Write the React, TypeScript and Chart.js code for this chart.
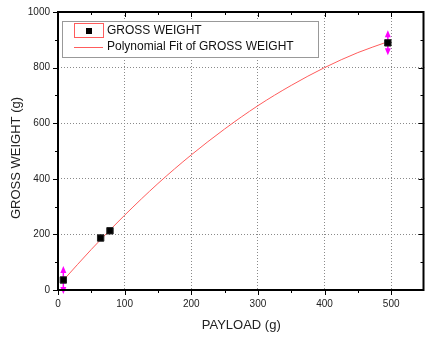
import React, { useEffect, useRef } from "react";
import { Chart, registerables } from "chart.js";

Chart.register(...registerables);

const payload = [8, 64, 78, 495];
const grossWeight = [36, 187, 213, 889];
const errors = [50, 0, 0, 45];
const fitX = [8, 50, 100, 150, 200, 250, 300, 350, 400, 450, 495];
const fitY = [35, 146, 269, 383, 486, 579, 663, 736, 800, 854, 893];
const legendLabels = ["GROSS WEIGHT", "Polynomial Fit of GROSS WEIGHT"];
const xTitle = "PAYLOAD (g)";
const yTitle = "GROSS WEIGHT (g)";

const FONT = '"Liberation Sans", Arial, sans-serif';
const FIT_COLOR = "#ff5c5c";

const errorBarPlugin = {
  id: "errorBars",
  beforeDatasetsDraw(chart: any) {
    const { ctx, scales } = chart;
    const xs = scales.x, ys = scales.y;
    ctx.save();
    ctx.strokeStyle = "#ff00ff";
    ctx.fillStyle = "#ff00ff";
    ctx.lineWidth = 1.5;
    payload.forEach((px, i) => {
      const e = errors[i];
      if (!e) return;
      const x = xs.getPixelForValue(px);
      const yTop = ys.getPixelForValue(grossWeight[i] + e);
      const yBot = ys.getPixelForValue(grossWeight[i] - e);
      ctx.beginPath();
      ctx.moveTo(x, yTop + 3);
      ctx.lineTo(x, yBot - 3);
      ctx.stroke();
      ctx.beginPath();
      ctx.moveTo(x, yTop);
      ctx.lineTo(x - 3, yTop + 7);
      ctx.lineTo(x + 3, yTop + 7);
      ctx.closePath();
      ctx.fill();
      ctx.beginPath();
      ctx.moveTo(x, yBot);
      ctx.lineTo(x - 3, yBot - 7);
      ctx.lineTo(x + 3, yBot - 7);
      ctx.closePath();
      ctx.fill();
    });
    ctx.restore();
  },
};

const framePlugin = {
  id: "frame",
  afterDraw(chart: any) {
    const { ctx, chartArea, scales } = chart;
    const { left, right, top, bottom } = chartArea;
    const xs = scales.x, ys = scales.y;
    ctx.save();
    ctx.strokeStyle = "#000";
    ctx.lineWidth = 1;
    for (let v = 50; v < 550; v += 50) {
      const x = Math.round(xs.getPixelForValue(v)) + 0.5;
      const len = v % 100 === 0 ? 5 : 3;
      ctx.beginPath();
      ctx.moveTo(x, bottom);
      ctx.lineTo(x, bottom + len);
      ctx.moveTo(x, top);
      ctx.lineTo(x, top + len);
      ctx.stroke();
    }
    for (let v = 100; v < 1000; v += 100) {
      const y = Math.round(ys.getPixelForValue(v)) + 0.5;
      const len = v % 200 === 0 ? 5 : 3;
      ctx.beginPath();
      ctx.moveTo(left, y);
      ctx.lineTo(left - len, y);
      ctx.moveTo(right - 1, y);
      ctx.lineTo(right - 1 - len, y);
      ctx.stroke();
    }
    ctx.beginPath();
    ctx.moveTo(left, top + 0.5);
    ctx.lineTo(left - 5, top + 0.5);
    ctx.moveTo(left, bottom + 0.5);
    ctx.lineTo(left - 5, bottom + 0.5);
    ctx.moveTo(left + 0.5, bottom);
    ctx.lineTo(left + 0.5, bottom + 5);
    ctx.stroke();
    ctx.lineWidth = 2;
    ctx.strokeRect(left, top, right - left - 1, bottom - top);

    ctx.fillStyle = "#222";
    ctx.font = `13px ${FONT}`;
    ctx.textAlign = "center";
    ctx.textBaseline = "middle";
    ctx.fillText(xTitle, (left + right) / 2, 325);
    ctx.save();
    ctx.translate(16, 158);
    ctx.rotate(-Math.PI / 2);
    ctx.fillText(yTitle, 0, 0);
    ctx.restore();

    const lx = 62, ly = 21, lw = 256, lh = 36;
    ctx.fillStyle = "#fff";
    ctx.fillRect(lx, ly, lw, lh);
    ctx.lineWidth = 1;
    ctx.strokeStyle = "#999";
    ctx.strokeRect(lx + 0.5, ly + 0.5, lw, lh);
    ctx.strokeStyle = FIT_COLOR;
    ctx.strokeRect(74.5, 23.5, 29, 14);
    ctx.fillStyle = "#000";
    ctx.fillRect(86, 28, 6, 6);
    ctx.beginPath();
    ctx.moveTo(74, 47.5);
    ctx.lineTo(103, 47.5);
    ctx.stroke();
    ctx.fillStyle = "#111";
    ctx.font = `12px ${FONT}`;
    ctx.textAlign = "left";
    ctx.textBaseline = "middle";
    ctx.fillText(legendLabels[0], 107, 31);
    ctx.fillText(legendLabels[1], 107, 47);
    ctx.restore();
  },
};

export default function App() {
  const ref = useRef<HTMLCanvasElement>(null);
  useEffect(() => {
    if (!ref.current) return;
    const chart = new Chart(ref.current, {
      type: "scatter",
      data: {
        datasets: [
          {
            label: legendLabels[0],
            data: payload.map((x, i) => ({ x, y: grossWeight[i] })),
            pointStyle: "rect",
            pointRadius: 4.5,
            backgroundColor: "#000",
            borderColor: "#222",
            borderWidth: 1,
            showLine: false,
          },
          {
            label: legendLabels[1],
            data: fitX.map((x, i) => ({ x, y: fitY[i] })),
            showLine: true,
            pointRadius: 0,
            borderColor: FIT_COLOR,
            borderWidth: 1,
            cubicInterpolationMode: "monotone",
          },
        ],
      },
      options: {
        animation: false,
        responsive: true,
        maintainAspectRatio: false,
        layout: { padding: { top: 12, right: 0, left: 0, bottom: 0 } },
        plugins: { legend: { display: false }, tooltip: { enabled: false } },
        scales: {
          x: {
            type: "linear",
            min: 0,
            max: 550,
            afterFit: (s: any) => { s.height = 48; s.paddingLeft = 0; s.paddingRight = 0; },
            ticks: {
              stepSize: 50,
              autoSkip: false,
              maxRotation: 0,
              padding: 8,
              color: "#222",
              font: { family: FONT, size: 10 },
              callback: (v: any) => (v % 100 === 0 && v <= 500 ? String(v) : ""),
            },
            grid: {
              drawTicks: false,
              lineWidth: 1,
              color: (c: any) => {
                const v = c.tick ? c.tick.value : -1;
                return v > 0 && v < 550 && v % 100 === 0 ? "#8a8a8a" : "rgba(0,0,0,0)";
              },
            },
            border: { display: false, dash: [1, 2] },
          },
          y: {
            type: "linear",
            min: 0,
            max: 1000,
            afterFit: (s: any) => { s.width = 58; s.paddingTop = 0; s.paddingBottom = 0; },
            ticks: {
              stepSize: 100,
              autoSkip: false,
              padding: 8,
              color: "#222",
              font: { family: FONT, size: 10 },
              callback: (v: any) => (v % 200 === 0 ? String(v) : ""),
            },
            grid: {
              drawTicks: false,
              lineWidth: 1,
              color: (c: any) => {
                const v = c.tick ? c.tick.value : -1;
                return v > 0 && v < 1000 && v % 200 === 0 ? "#8a8a8a" : "rgba(0,0,0,0)";
              },
            },
            border: { display: false, dash: [1, 2] },
          },
        },
      },
      plugins: [errorBarPlugin, framePlugin],
    } as any);
    return () => chart.destroy();
  }, []);
  return (
    <div style={{ position: "absolute", left: 0, top: 0, width: 425, height: 338, overflow: "hidden", background: "#fff" }}>
      <div style={{ position: "relative", width: 430, height: 338 }}>
        <canvas ref={ref} />
      </div>
    </div>
  );
}
